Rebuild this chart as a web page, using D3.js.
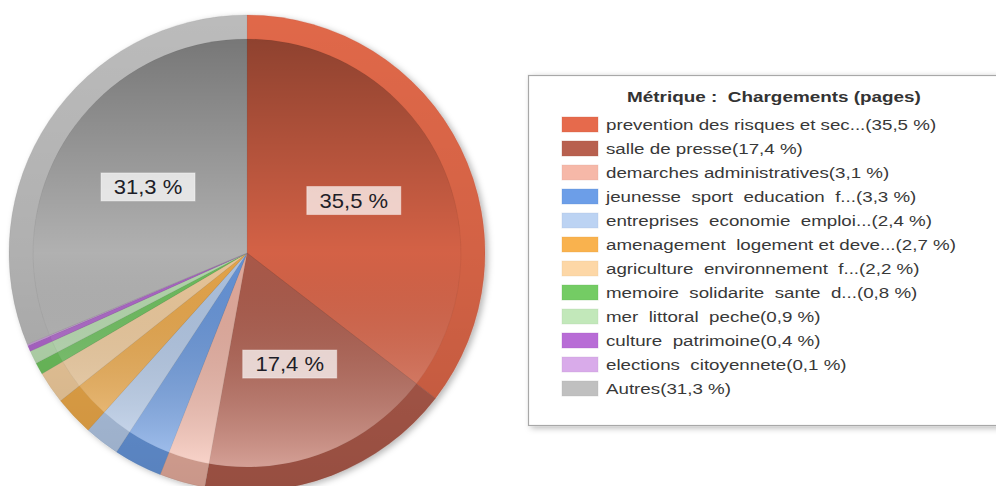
<!DOCTYPE html>
<html><head><meta charset="utf-8">
<script src="https://cdn.jsdelivr.net/npm/d3@7"></script>
<style>
html,body{margin:0;padding:0;background:#fff;}
svg{display:block;}
text{font-family:"Liberation Sans",Arial,sans-serif;}
</style></head>
<body>
<svg id="chart" width="996" height="486"></svg>
<script>
const categories = [
  "prevention des risques et sec...",
  "salle de presse",
  "demarches administratives",
  "jeunesse  sport  education  f...",
  "entreprises  economie  emploi...",
  "amenagement  logement et deve...",
  "agriculture  environnement  f...",
  "memoire  solidarite  sante  d...",
  "mer  littoral  peche",
  "culture  patrimoine",
  "elections  citoyennete",
  "Autres"
];
const values = [35.5, 17.4, 3.1, 3.3, 2.4, 2.7, 2.2, 0.8, 0.9, 0.4, 0.1, 31.3];
const colors = ["#e66a4c","#b8604f","#f6b8a8","#6c9ee8","#bcd3f3","#f9b24e","#fdd7a6","#74cc64","#c2e8ba","#b86cd6","#d9abea","#c0c0c0"];
const legendTitle = "Métrique :  Chargements (pages)";

const fmt = v => d3.format(".1f")(v).replace(".", ",") + " %";

const svg = d3.select("#chart");
const defs = svg.append("defs");
const cx = 247, cy = 253, R = 238, Rin = 214;

const shadow = defs.append("filter").attr("id","sh").attr("x","-10%").attr("y","-10%").attr("width","120%").attr("height","120%");
shadow.append("feDropShadow").attr("dx",3).attr("dy",2).attr("stdDeviation",3).attr("flood-color","#000").attr("flood-opacity",0.28);

const grad = defs.append("linearGradient").attr("id","g").attr("gradientUnits","userSpaceOnUse")
  .attr("x1",0).attr("y1",-Rin).attr("x2",0).attr("y2",Rin);
grad.append("stop").attr("offset",0).attr("stop-color","#000").attr("stop-opacity",0.38);
grad.append("stop").attr("offset",0.5).attr("stop-color","#000").attr("stop-opacity",0.08);
grad.append("stop").attr("offset",1).attr("stop-color","#fff").attr("stop-opacity",0.4);

const gradR = defs.append("linearGradient").attr("id","gr").attr("gradientUnits","userSpaceOnUse")
  .attr("x1",0).attr("y1",-R).attr("x2",0).attr("y2",R);
gradR.append("stop").attr("offset",0).attr("stop-color","#000").attr("stop-opacity",0.0);
gradR.append("stop").attr("offset",0.5).attr("stop-color","#000").attr("stop-opacity",0.06);
gradR.append("stop").attr("offset",1).attr("stop-color","#000").attr("stop-opacity",0.16);

const pie = d3.pie().sort(null).value(d => d.v);
const data = pie(values.map((v,i)=>({v, c: colors[i], name: categories[i]})));
const arcOuter = d3.arc().innerRadius(0).outerRadius(R);
const arcInner = d3.arc().innerRadius(0).outerRadius(Rin);

const g = svg.append("g").attr("transform",`translate(${cx},${cy})`);
const base = g.append("g").attr("filter","url(#sh)");
base.selectAll("path.o").data(data).join("path").attr("class","o")
  .attr("d", arcOuter)
  .attr("fill", d => d3.color(d.data.c).darker(0.08))
  .attr("stroke", d => d3.color(d.data.c).darker(0.8)).attr("stroke-opacity",0.3).attr("stroke-width",0.7);
g.append("circle").attr("r", R).attr("fill","url(#gr)");
g.selectAll("path.i").data(data).join("path").attr("class","i")
  .attr("d", arcInner)
  .attr("fill", d => d.data.c)
  .attr("stroke", d => d3.color(d.data.c).darker(0.8)).attr("stroke-opacity",0.3).attr("stroke-width",0.7);
g.append("circle").attr("r", Rin).attr("fill","url(#g)");

const arcLabel = d3.arc().innerRadius(R*0.5).outerRadius(R*0.5);
const lab = g.selectAll("g.lab").data(data.filter(d => d.data.v >= 10)).join("g").attr("class","lab")
  .attr("transform", d => { const p = arcLabel.centroid(d); return `translate(${p[0]},${p[1]})`; });
lab.append("rect").attr("x",-47).attr("y",-14).attr("width",94).attr("height",28)
  .attr("fill","#fff").attr("fill-opacity",0.72).attr("stroke","#fff").attr("stroke-opacity",0.4);
lab.append("text").attr("text-anchor","middle").attr("dy","0.36em")
  .attr("transform","scale(1.1,1)")
  .attr("font-size",20).attr("fill","#1e1e28").text(d => fmt(d.data.v));

// legend
const lg = svg.append("g");
lg.append("rect").attr("x",528.5).attr("y",75.5).attr("width",470).attr("height",350)
  .attr("fill","#fff").attr("stroke","#a8a8a8").attr("stroke-width",1.2)
  .attr("filter","url(#sh)");
lg.append("text").attr("transform","translate(774,102) scale(1.26,1)").attr("text-anchor","middle")
  .attr("font-size",15).attr("font-weight","bold").attr("fill","#333")
  .style("white-space","pre").text(legendTitle);
const rowY = d3.scaleBand().domain(d3.range(categories.length)).range([113, 113 + 24*categories.length]);
const rows = lg.selectAll("g.row").data(categories).join("g").attr("class","row")
  .attr("transform",(d,i)=>`translate(0,${rowY(i)})`);
rows.append("rect").attr("x",562).attr("y",4).attr("width",36).attr("height",15)
  .attr("fill",(d,i)=>colors[i]).attr("stroke",(d,i)=>d3.color(colors[i]).darker(0.3)).attr("stroke-opacity",0.3);
rows.append("text").attr("transform","translate(606,17) scale(1.21,1)").attr("font-size",15.5).attr("fill","#383838")
  .style("white-space","pre").text((d,i)=> d + "(" + fmt(values[i]) + ")");
</script>
</body></html>
